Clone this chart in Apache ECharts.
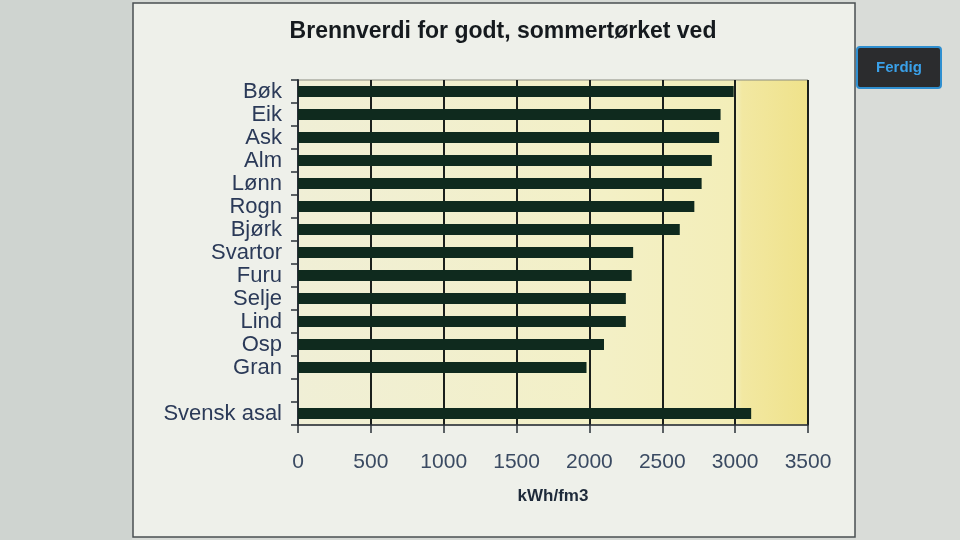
<!DOCTYPE html>
<html>
<head>
<meta charset="utf-8">
<script src="https://cdn.jsdelivr.net/npm/echarts@6/dist/echarts.min.js"></script>
<style>
html,body{margin:0;padding:0;background:#d6dad6;}
#c{width:960px;height:540px;}
</style>
</head>
<body>
<div id="c"></div>
<script>
var categories = ['Bøk','Eik','Ask','Alm','Lønn','Rogn','Bjørk','Svartor','Furu','Selje','Lind','Osp','Gran','','Svensk asal'];
var values = [2990, 2900, 2890, 2840, 2770, 2720, 2620, 2300, 2290, 2250, 2250, 2100, 1980, null, 3110];
var xTicks = [0, 500, 1000, 1500, 2000, 2500, 3000, 3500];
var titleText = 'Brennverdi for godt, sommertørket ved';
var axisName = 'kWh/fm3';

var chart = echarts.init(document.getElementById('c'), null, {renderer:'canvas'});
chart.setOption({
  backgroundColor: '#d6dad6',
  animation: false,
  graphic: [
    {type:'rect', z:-10, shape:{x:0,y:0,width:132,height:540}, style:{fill:'#cfd4d0'}},
    {type:'rect', z:-9, shape:{x:133,y:3,width:722,height:534}, style:{fill:'#eef0ea', stroke:'#4a4f52', lineWidth:1.5}},
    {type:'rect', z:-9, shape:{x:856,y:0,width:104,height:540}, style:{fill:'#d9dcd8'}},
    {type:'rect', z:10, shape:{x:857,y:47,width:84,height:41,r:3}, style:{fill:'#2b2c2e', stroke:'#2f8fd0', lineWidth:2}},
    {type:'text', z:11, x:899, y:68, style:{text:'Ferdig', fill:'#3aa0e8', font:'bold 15px "Liberation Sans", Arial, sans-serif', textAlign:'center', textVerticalAlign:'middle'}}
  ],
  title: {
    text: titleText,
    left: 498, top: 15, textAlign: 'center',
    textStyle: {fontFamily:'"Liberation Sans", Arial, sans-serif', fontSize: 23, fontWeight:'bold', color:'#151a1e'}
  },
  grid: {
    left: 298, right: 152, top: 80, bottom: 115,
    show: true,
    borderColor: '#8a8c80', borderWidth: 1,
    backgroundColor: {type:'linear', x:0, y:0, x2:1, y2:0, colorStops:[
      {offset:0, color:'#f0efd6'},
      {offset:0.6, color:'#f3f0c6'},
      {offset:0.86, color:'#f3eeb8'},
      {offset:0.87, color:'#f2e8a2'},
      {offset:1, color:'#efe28a'}
    ]}
  },
  xAxis: {
    type: 'value', min: 0, max: 3500, interval: 500,
    name: axisName, nameLocation: 'middle', nameGap: 63,
    nameTextStyle: {fontFamily:'"Liberation Sans", Arial, sans-serif', fontSize: 17, fontWeight:'bold', color:'#1e2a3a'},
    axisLine: {show:true, lineStyle:{color:'#2a3038', width:1.5}},
    axisTick: {show:true, length:8, lineStyle:{color:'#2a3038', width:1.5}},
    axisLabel: {fontFamily:'"Liberation Sans", Arial, sans-serif', fontSize: 21, color:'#3a4a62', margin: 27,
      formatter: function(v){ return xTicks.indexOf(v) >= 0 ? String(v) : ''; }},
    splitLine: {show:true, lineStyle:{color:'#1a1f1c', width:2}}
  },
  yAxis: {
    type: 'category', data: categories, inverse: true,
    axisLine: {show:true, lineStyle:{color:'#2a3038', width:2}},
    axisTick: {show:true, length:7, alignWithLabel:false, lineStyle:{color:'#2a3038', width:1.5}},
    axisLabel: {interval: 0, fontFamily:'"Liberation Sans", Arial, sans-serif', fontSize: 22, lineHeight: 22, color:'#2b3a58', margin: 16}
  },
  series: [{
    type: 'bar', data: values, barWidth: '47%',
    itemStyle: {color:'#0f2a1e'}
  }]
});
</script>
</body>
</html>
